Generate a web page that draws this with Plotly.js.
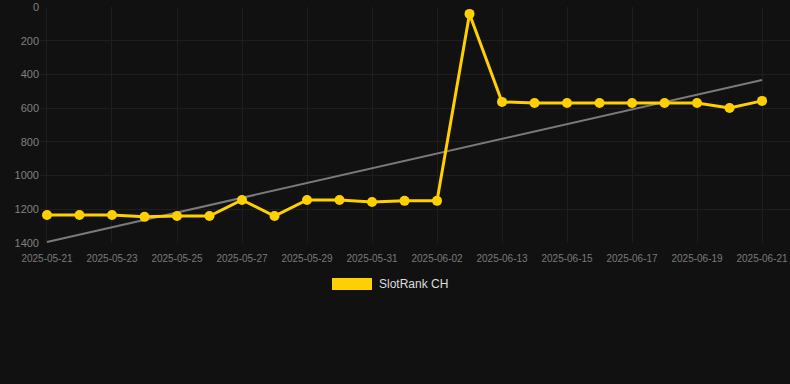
<!DOCTYPE html>
<html>
<head>
<meta charset="utf-8">
<script src="https://cdn.plot.ly/plotly-3.0.1.min.js"></script>
<style>
html,body{margin:0;padding:0;background:#111111;}
#chart{width:790px;height:384px;}
</style>
</head>
<body>
<div id="chart"></div>
<script>
const dates = ["2025-05-21","2025-05-22","2025-05-23","2025-05-24","2025-05-25","2025-05-26","2025-05-27","2025-05-28","2025-05-29","2025-05-30","2025-05-31","2025-06-01","2025-06-02","2025-06-12","2025-06-13","2025-06-14","2025-06-15","2025-06-16","2025-06-17","2025-06-18","2025-06-19","2025-06-20","2025-06-21"];
const ranks = [1234,1234,1234,1245,1240,1240,1145,1240,1145,1145,1157,1150,1150,41,563,569,569,569,569,569,569,599,557];
const trendDates = ["2025-05-21","2025-06-21"];
const trendValues = [1394,433];
const seriesName = "SlotRank CH";
const yTicks = [0,200,400,600,800,1000,1200,1400];

// every other category label as in reference
const shownTicks = dates.filter((d,i)=> i%2===0);

const traces = [
  {x: trendDates, y: trendValues, type:'scatter', mode:'lines',
   line:{color:'#7a7a7a', width:2}, hoverinfo:'skip', showlegend:false},
  {x: dates, y: ranks, type:'scatter', mode:'lines+markers', name: seriesName,
   line:{color:'#FFD000', width:3}, marker:{color:'#FFD000', size:10}, showlegend:false}
];

const layout = {
  width:790, height:384,
  paper_bgcolor:'#111111', plot_bgcolor:'#111111',
  margin:{l:40, r:0, t:7, b:141},
  font:{family:'Liberation Sans, Arial, sans-serif', color:'#808080'},
  xaxis:{type:'category', categoryorder:'array', categoryarray:dates,
    range:[-0.215, 22.86], tickmode:'array', tickvals:shownTicks, ticktext:shownTicks,
    showgrid:true, gridcolor:'#1e1e1e', gridwidth:1, zeroline:false, showline:false,
    ticks:'', ticklabelstandoff:8, tickfont:{size:10, color:'#7a7a7a'}, fixedrange:true},
  yaxis:{range:[1400,0], tickmode:'array', tickvals:yTicks, ticktext:yTicks.map(String),
    showgrid:true, gridcolor:'#1e1e1e', gridwidth:1, zeroline:false, showline:false,
    ticks:'', tickfont:{size:11, color:'#808080'}, fixedrange:true},
  shapes:[{type:'rect', xref:'paper', yref:'paper', x0:(332-40)/750, x1:(372-40)/750,
    y0:(384-141-290)/236, y1:(384-141-278)/236, fillcolor:'#FFD000', line:{width:0}}],
  annotations:[{xref:'paper', yref:'paper', x:(377-40)/750, y:(384-141-284)/236,
    xanchor:'left', yanchor:'middle', text:seriesName, showarrow:false,
    font:{size:12, color:'#dddddd'}}]
};

Plotly.newPlot('chart', traces, layout, {displayModeBar:false, staticPlot:true});
</script>
</body>
</html>
